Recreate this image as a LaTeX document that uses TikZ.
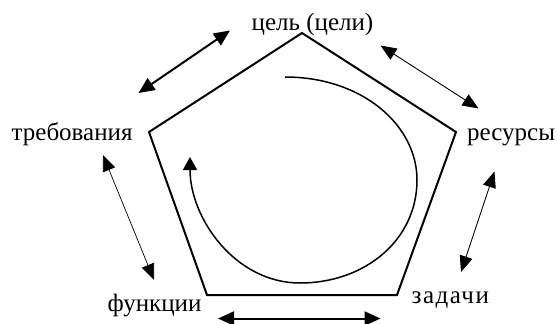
\documentclass[tikz,border=0pt]{standalone}
\usepackage{fontspec}
\setmainfont{Liberation Serif}
\usetikzlibrary{arrows.meta}
\begin{document}
\begin{tikzpicture}[x=1pt,y=-1pt,
  lbl/.style={anchor=base west,inner sep=0pt,font=\fontsize{25}{29}\selectfont},
  pent/.style={line width=2pt,line join=miter},
  thickarr/.style={line width=2pt,{Triangle[length=16pt,width=14pt]}-{Triangle[length=16pt,width=14pt]}},
  thinarr/.style={line width=0.9pt,{Triangle[length=16pt,width=13pt]}-{Triangle[length=16pt,width=13pt]}},
  spiral/.style={line width=1.5pt,-{Triangle[length=13pt,width=14pt]}}]
\useasboundingbox (0,0) rectangle (557,324);
% labels
\node[lbl] (goal) at (251.5,30) {цель (цели)};
\node[lbl] (req) at (11.5,140) {требования};
\node[lbl] (res) at (467,140) {ресурсы};
\node[lbl] (fun) at (107.5,311.5) {функции};
\node[lbl] (task) at (411.5,303.5) {\addfontfeature{LetterSpace=6}задачи};
% pentagon
\coordinate (pT) at (302,33);
\coordinate (pR) at (456,132);
\coordinate (pBR) at (397,295);
\coordinate (pBL) at (207,295);
\coordinate (pL) at (149,132);
\draw[pent] (pT) -- (pR) -- (pBR) -- (pBL) -- (pL) -- cycle;
% arrow end points
\coordinate (a1s) at (138.5,93);
\coordinate (a1e) at (230,30.5);
\coordinate (a2s) at (380.5,45.5);
\coordinate (a2e) at (478.5,108.5);
\coordinate (a3s) at (103,155);
\coordinate (a3e) at (154,280);
\coordinate (a4s) at (494.5,171.5);
\coordinate (a4e) at (461,272);
\coordinate (a5s) at (218,318.5);
\coordinate (a5e) at (380.5,318.5);
\draw[thickarr] (a1s) -- (a1e);
\draw[thinarr] (a2s) -- (a2e);
\draw[thinarr,line width=0.7pt] (a3s) -- (a3e);
\draw[thinarr] (a4s) -- (a4e);
\draw[thickarr] (a5s) -- (a5e);
% spiral
\coordinate (sS) at (285,77);
\coordinate (sE) at (190,157);
\draw[spiral] (sS) .. controls (362,77) and (417,125) .. (417,180)
  .. controls (417,240) and (365,283) .. (300,283)
  .. controls (235,283) and (190,218) .. (sE);
\end{tikzpicture}
\end{document}
